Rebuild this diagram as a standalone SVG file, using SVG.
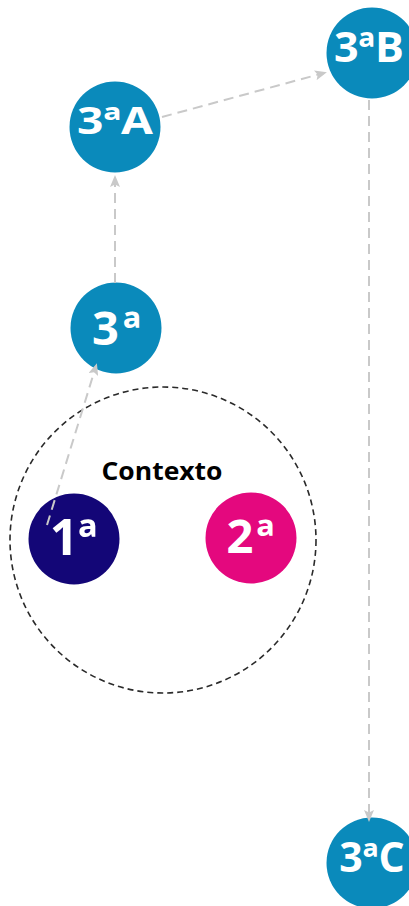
<svg xmlns="http://www.w3.org/2000/svg" width="409" height="906" viewBox="0 0 409 906">
<defs>
<style>
.blue{fill:#0a8abb}
.navy{fill:#130677}
.pink{fill:#e4087e}
.lbl{fill:#ffffff;font-family:"Open Sans","Noto Sans",sans-serif;font-weight:bold;text-anchor:middle}
.ctx{fill:none;stroke:#2a2a2a;stroke-width:1.6;stroke-dasharray:6 4}
.edge{fill:none;stroke:#c9c9c9;stroke-width:2;stroke-dasharray:10 6}
.title{font-family:"Open Sans","Liberation Sans",sans-serif;font-weight:bold;font-size:25px;fill:#000;text-anchor:middle}
</style>
<marker id="arr" viewBox="0 0 12 10" markerWidth="12" markerHeight="10" refX="9" refY="5" orient="auto" markerUnits="userSpaceOnUse">
<path d="M0,0 L12,5 L0,10 L2.5,5 z" fill="#c9c9c9"/>
</marker>
</defs>
<rect width="409" height="906" fill="#ffffff"/>
<g id="contexto">
<circle class="ctx" cx="163" cy="540" r="153"/>
<text class="title" x="162" y="480" textLength="121" lengthAdjust="spacingAndGlyphs">Contexto</text>
</g>
<g id="n3">
<circle class="blue" cx="116" cy="328" r="45.5"/>
<text class="lbl" x="116.5" y="345" font-size="47" textLength="49" lengthAdjust="spacing">3ª</text>
</g>
<g id="n3A">
<circle class="blue" cx="115" cy="127" r="45.5"/>
<text class="lbl" x="115" y="134" font-size="38" textLength="76" lengthAdjust="spacingAndGlyphs">3ªA</text>
</g>
<g id="n3B">
<circle class="blue" cx="372" cy="53" r="45.5"/>
<text class="lbl" x="369" y="62" font-size="42" textLength="70" lengthAdjust="spacingAndGlyphs">3ªB</text>
</g>
<g id="n3C">
<circle class="blue" cx="372" cy="863" r="45.5"/>
<text class="lbl" x="372" y="872" font-size="41">3ªC</text>
</g>
<g id="n1">
<circle class="navy" cx="74" cy="539" r="45.5"/>
<text class="lbl" x="73.5" y="555" font-size="50">1ª</text>
</g>
<g id="n2">
<circle class="pink" cx="251" cy="538" r="45.5"/>
<text class="lbl" x="250.5" y="553" font-size="47" textLength="48" lengthAdjust="spacing">2ª</text>
</g>
<g id="connectors">
<line class="edge" x1="115" y1="283" x2="115" y2="178" marker-end="url(#arr)"/>
<line class="edge" x1="162" y1="117" x2="324" y2="73" marker-end="url(#arr)"/>
<line class="edge" x1="369" y1="100" x2="369" y2="819" marker-end="url(#arr)"/>
<line class="edge" x1="47" y1="525" x2="96" y2="366" marker-end="url(#arr)"/>
</g>
</svg>
